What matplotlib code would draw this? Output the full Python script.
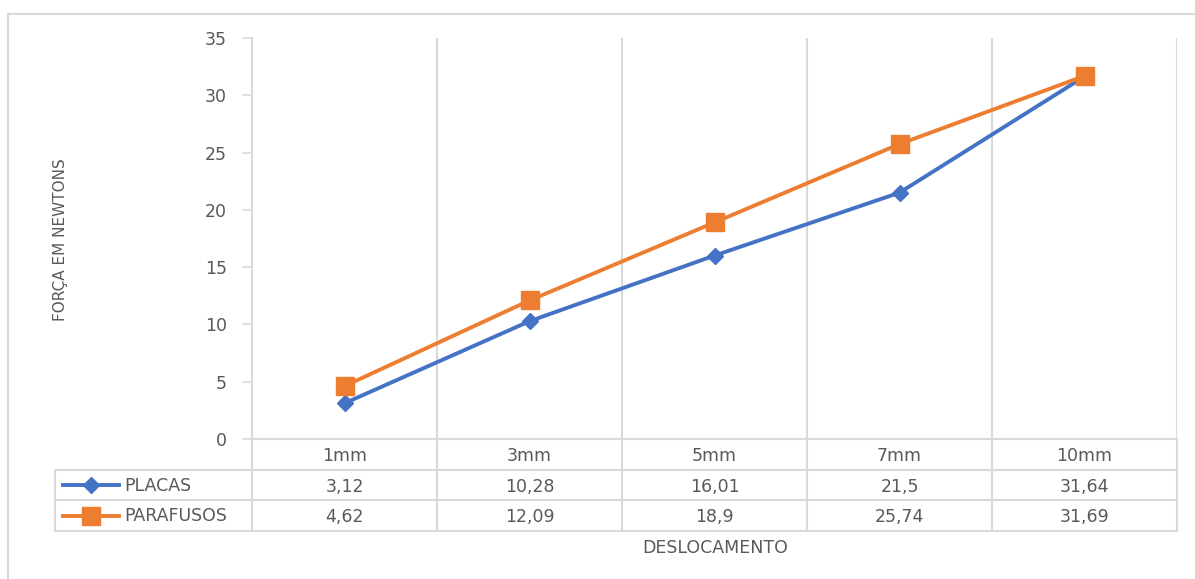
import numpy as np
import matplotlib
matplotlib.use("Agg")
import matplotlib.pyplot as plt
from matplotlib.lines import Line2D

# force (N) at each displacement
deslocamento = ["1mm", "3mm", "5mm", "7mm", "10mm"]
placas = [3.12, 10.28, 16.01, 21.5, 31.64]
parafusos = [4.62, 12.09, 18.9, 25.74, 31.69]
y_ticks = [0, 5, 10, 15, 20, 25, 30, 35]

W, H = 1195, 579
grid_col = "#d9d9d9"
txt_col = "#595959"
blue = "#4472C4"
orange = "#ED7D31"
fs = 12.5
plt.rcParams['font.family'] = ['DejaVu Sans']

fig = plt.figure(figsize=(W / 100, H / 100), dpi=100)

def px_axes(x0, y0, x1, y1):
    # pixel box (top-left origin) -> figure axes
    return fig.add_axes([x0 / W, 1 - y1 / H, (x1 - x0) / W, (y1 - y0) / H])

# outer chart border (only top & left visible)
fig.add_artist(Line2D([8 / W, 8 / W], [1 - 14 / H, 0], color=grid_col, lw=1.5))
fig.add_artist(Line2D([8 / W, 1], [1 - 14 / H, 1 - 14 / H], color=grid_col, lw=1.5))

n = len(deslocamento)
xc = np.arange(n) + 0.5

ax = px_axes(252, 38, 1177, 439)
ax.set_xlim(0, n)
ax.set_ylim(0, 35)
for s in ["top", "right", "bottom"]:
    ax.spines[s].set_visible(False)
ax.spines["left"].set_color(grid_col)
ax.spines["left"].set_linewidth(1.5)
ax.set_xticks([])
ax.set_yticks(y_ticks)
ax.tick_params(axis="y", colors=grid_col, length=7, width=1.2, labelcolor=txt_col,
               labelsize=fs, pad=11)
for x in range(1, n + 1):
    ax.axvline(x, color=grid_col, lw=1.5, zorder=0)
ax.axhline(0, color=grid_col, lw=1.5, zorder=0)

ax.plot(xc, placas, color=blue, lw=2.8, marker="D", ms=8, zorder=3)
ax.plot(xc, parafusos, color=orange, lw=2.8, marker="s", ms=12.5, zorder=3)

fig.text(60 / W, 1 - 240 / H, "FORÇA EM NEWTONS", rotation=90, ha="center", va="center",
         color=txt_col, fontsize=11)

# data table under the plot
left_px = 55
tx = px_axes(left_px, 439, 1177, 531)
tx.set_xlim(-(252 - left_px) / 185, n)
tx.set_ylim(3, 0)
tx.axis("off")
x0 = tx.get_xlim()[0]
# horizontal rules
tx.plot([0, n], [0, 0], color=grid_col, lw=1.5, clip_on=False)
for yy in [1, 2, 3]:
    tx.plot([x0, n], [yy, yy], color=grid_col, lw=1.5, clip_on=False)
# vertical rules
tx.plot([x0, x0], [1, 3], color=grid_col, lw=1.5, clip_on=False)
for x in range(0, n + 1):
    tx.plot([x, x], [0, 3], color=grid_col, lw=1.5, clip_on=False)

for i, lab in enumerate(deslocamento):
    tx.text(xc[i], 0.55, lab, ha="center", va="center", color=txt_col, fontsize=fs)
    tx.text(xc[i], 1.55, f"{placas[i]:g}".replace(".", ","), ha="center", va="center",
            color=txt_col, fontsize=fs)
    tx.text(xc[i], 2.55, f"{parafusos[i]:g}".replace(".", ","), ha="center", va="center",
            color=txt_col, fontsize=fs)

# legend keys inside the table
k0, k1 = x0 + 8 / 185, x0 + 64 / 185
for row, (name, col, mk, ms) in enumerate([("PLACAS", blue, "D", 8),
                                           ("PARAFUSOS", orange, "s", 12.5)]):
    yy = 1.5 + row
    tx.plot([k0, k1], [yy, yy], color=col, lw=2.8, clip_on=False)
    tx.plot([(k0 + k1) / 2], [yy], color=col, marker=mk, ms=ms, clip_on=False)
    tx.text(x0 + 69 / 185, yy + 0.02, name, ha="left", va="center", color=txt_col, fontsize=fs)

fig.text(715 / W, 1 - 548 / H, "DESLOCAMENTO", ha="center", va="center",
         color=txt_col, fontsize=fs)

fig.savefig("out.png", dpi=100, facecolor="white")
